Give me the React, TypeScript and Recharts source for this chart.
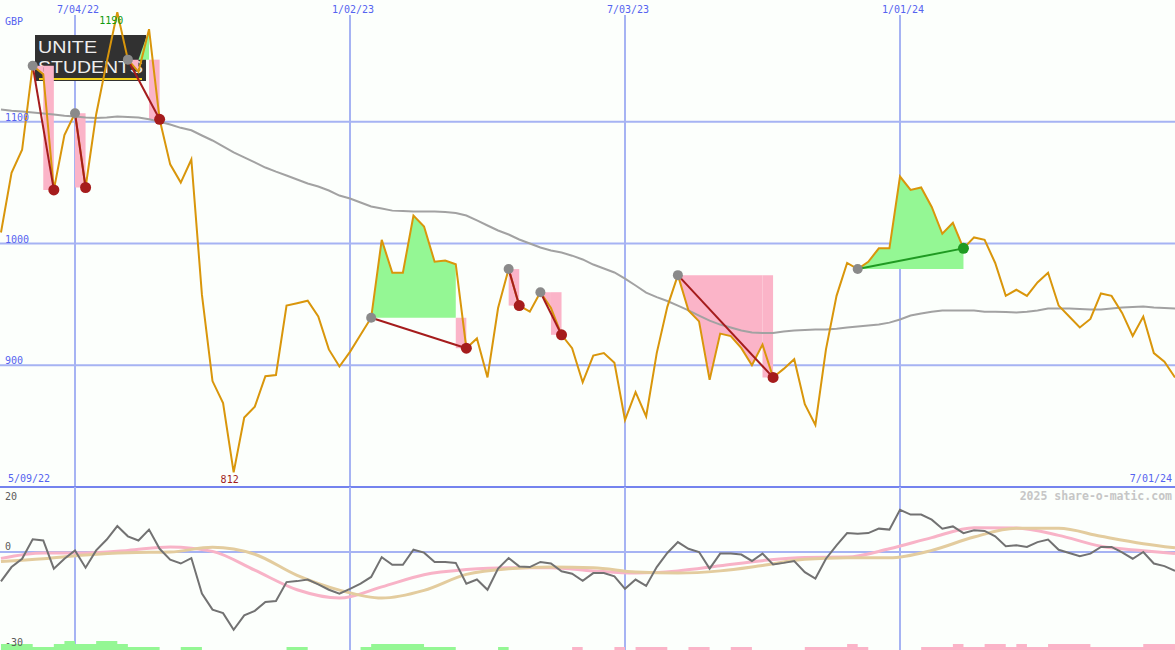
import React from 'react';
import {
  ComposedChart,
  Line,
  Area,
  XAxis,
  YAxis,
  CartesianGrid,
  Customized,
  LabelList,
} from 'recharts';

// weekly closes; week 0 = 5/09/22, first visible point is week 1
const firstWeek = 1;
const startLabel = '5/09/22';
const endLabel = '7/01/24';
const dateTicks = [8, 34, 60, 86];
const dateTickLabels = ['7/04/22', '1/02/23', '7/03/23', '1/01/24'];
const priceTicks = [900, 1000, 1100];
const oscTicks = [20, 0, -30];

const price = [
  1009, 1058, 1077, 1146, 1139, 1044, 1089, 1107, 1046, 1106,
  1149, 1190, 1151, 1141, 1176, 1102, 1065, 1050, 1069, 958,
  887, 869, 812, 857, 866, 891, 892, 949, 951, 953,
  940, 913, 899, 911, 925, 939, 1003, 976, 976, 1023,
  1014, 985, 986, 983, 914, 922, 890, 947, 979, 949,
  944, 960, 947, 925, 914, 886, 908, 910, 902, 855,
  878, 858, 910, 948, 974, 945, 936, 888, 926, 924,
  914, 900, 917, 890, 897, 905, 868, 851, 913, 957,
  984, 979, 985, 996, 996, 1055, 1044, 1046, 1030, 1008,
  1017, 996, 1005, 1003, 984, 957, 962, 957, 968, 976,
  949, 940, 931, 938, 959, 957, 943, 924, 940, 910,
  903, 890,
];

const movingAvg = [
  1110, 1109, 1108.5, 1107.6, 1106.8, 1106, 1105, 1104.4, 1103.5, 1103,
  1103.5, 1104.4, 1104, 1103.5, 1102, 1100, 1097.8, 1095, 1093, 1088.7,
  1084.6, 1079.7, 1074.8, 1070.7, 1066.6, 1062.4, 1059, 1055.9, 1052.6, 1049.3,
  1046.8, 1043.5, 1039.4, 1037, 1033.7, 1030.4, 1028.8, 1027, 1026.7, 1026.3,
  1026.3, 1026.3, 1025.9, 1025, 1023, 1019, 1014.8, 1010.7, 1007.4, 1003.3,
  1000, 996.7, 994.2, 992.6, 990, 986.9, 982.7, 979.5, 976.2, 971.2,
  965.5, 959.7, 956, 952.8, 949, 945, 940.8, 936.7, 933.4, 931,
  928.5, 926.9, 926.5, 926.5, 927.7, 928.5, 929, 929.3, 929.3, 930,
  931, 931.8, 932.6, 933.4, 935, 937.6, 940.8, 942.5, 944, 945,
  945, 945, 945, 944, 944, 943.7, 943.3, 944, 945, 946.6,
  946.6, 946.6, 946.2, 945.8, 945.8, 946.6, 947.4, 947.8, 948.2, 947.4,
  947, 946.6,
];

const oscillator = [
  -9.2, -4.7, -2.1, 4.0, 3.6, -5.2, -2.1, 0.5, -4.9, 0.5,
  3.9, 8.1, 4.9, 3.6, 7.0, 1.0, -2.4, -3.6, -1.9, -13.0,
  -18.0, -19.1, -24.3, -19.8, -18.4, -15.6, -15.3, -9.4, -9.1, -8.6,
  -10.1, -11.8, -13.0, -11.5, -9.9, -7.8, -1.6, -4.0, -4.0, 0.7,
  -0.2, -3.1, -3.1, -3.4, -9.9, -8.6, -11.8, -5.2, -1.9, -4.5,
  -4.7, -3.1, -3.6, -6.0, -6.8, -9.0, -6.6, -6.6, -7.6, -11.5,
  -8.6, -10.6, -4.7, -0.3, 3.1, 1.0, 0, -5.2, -0.5, -0.5,
  -0.8, -2.8, -0.5, -3.9, -3.4, -2.8, -6.3, -8.3, -2.1, 2.1,
  5.9, 5.7, 5.9, 7.3, 7.0, 13.2, 11.7, 11.7, 10.1, 7.3,
  8.0, 5.9, 6.8, 6.6, 4.9, 1.8, 2.1, 1.6, 3.1, 3.9,
  0.7, -0.3, -1.3, -0.5, 1.6, 1.6, -0.1, -2.1, 0, -3.6,
  -4.4, -5.9,
];

// smooth signal lines, read every 4 weeks
const signalWeeks = [
  1, 5, 9, 13, 17, 21, 25, 29, 33, 37, 41, 45, 49, 53, 57, 61, 65, 69, 73, 77,
  81, 85, 89, 93, 97, 101, 105, 109, 112,
];
const signalPink = [
  -2.0, -0.3, -0.3, 0.5, 1.6, 0.2, -5.7, -11.8, -14.4, -10.9, -7.1, -5.5, -4.9, -4.9,
  -5.9, -6.6, -5.9, -4.3, -2.7, -1.7, -1.6, 1.0, 4.5, 7.6, 7.5, 5.2, 1.8, 0.4, -0.5,
];
const signalTan = [
  -3.0, -2.1, -0.9, -0.2, 0, 1.5, -0.7, -7.3, -11.9, -14.4, -12.0, -7.0, -5.2, -4.7,
  -4.9, -6.25, -6.6, -5.9, -4.2, -2.3, -1.8, -1.8, 0.5, 4.7, 7.4, 7.4, 4.9, 2.6, 1.3,
];

// bottom strip: + green blocks, - pink blocks
const flow = [
  2, 2, 2, 1, 1, 2, 3, 2, 2, 3,
  3, 2, 1, 1, 1, 0, 0, 1, 1, 0,
  0, 0, 0, 0, 0, 0, 0, 1, 1, 0,
  0, 0, 0, 0, 1, 2, 2, 2, 2, 2,
  1, 1, 1, 0, 0, 0, 0, 1, 0, 0,
  0, 0, 0, 0, -1, 0, 0, 0, -1, 0,
  -1, -1, -1, 0, 0, -1, -1, 0, 0, -1,
  -1, 0, 0, 0, 0, 0, -1, -1, -1, -1,
  -2, -1, 0, 0, 0, 0, 0, -1, -1, -1,
  -2, -1, -1, -2, -2, -1, -2, -1, -1, -2,
  -2, -2, -2, -1, -1, -1, -1, -1, -2, -2,
  -2, -2,
];

// entry / exit weeks
const trades = [
  { entry: 4, exit: 6 },
  { entry: 8, exit: 9 },
  { entry: 13, exit: 16 },
  { entry: 36, exit: 45 },
  { entry: 49, exit: 50 },
  { entry: 52, exit: 54 },
  { entry: 65, exit: 74 },
  { entry: 82, exit: 92 },
];

const W = 1175;
const TOP_H = 487;
const BOT_H = 163;
const BG = '#fcfffc';
const GRID = '#a6b3f3';
const BLUE = '#5563f0';
const MONO = '"DejaVu Sans Mono", monospace';
const X_DOMAIN = [8 - 75 / (275 / 26), 112];
const OSC_DOMAIN = [-30.625, 20.3125];
const FLOW_UNIT = 0.9375;
const PINK = '#fbb4c8';
const GREEN = '#94f794';

const idx = (w: number) => w - firstWeek;

type Run = { kind: 'g' | 'p' | 'r'; from: number; to: number; e: number; xv: number };
const runs: Run[] = [];
trades.forEach((t) => {
  const e = price[idx(t.entry)];
  const xv = price[idx(t.exit)];
  let cur: Run | null = null;
  for (let j = t.entry; j < t.exit; j++) {
    const kind: Run['kind'] =
      j + 1 === t.exit && xv < e ? 'r' : price[idx(j + 1)] >= e ? 'g' : 'p';
    if (cur && cur.kind === kind) cur.to = j + 1;
    else {
      cur = { kind, from: j, to: j + 1, e, xv };
      runs.push(cur);
    }
  }
});

const maxV = Math.max(...price);
const minV = Math.min(...price);

const topData = price.map((p, i) => {
  const w = i + firstWeek;
  const row: any = { w, price: p, ma: movingAvg[i] };
  if (p === maxV || p === minV) row.ext = p;
  trades.forEach((t, ti) => {
    if (w === t.entry || w === t.exit) row['trade' + ti] = p;
  });
  runs.forEach((r, ri) => {
    if (w >= r.from && w <= r.to) {
      row['fill' + ri] =
        r.kind === 'g' ? [r.e, Math.max(p, r.e)] : r.kind === 'p' ? [Math.min(p, r.e), r.e] : [r.xv, r.e];
    }
  });
  return row;
});

const botData = oscillator.map((v, i) => {
  const w = i + firstWeek;
  const s = signalWeeks.indexOf(w);
  const f = flow[i];
  return {
    w,
    osc: v,
    pink: s >= 0 ? signalPink[s] : null,
    tan: s >= 0 ? signalTan[s] : null,
    flowG: OSC_DOMAIN[0] + Math.max(f, 0) * FLOW_UNIT,
    flowP: OSC_DOMAIN[0] + Math.max(-f, 0) * FLOW_UNIT,
  };
});

const DateTick = ({ x, payload }: any) => {
  const label = dateTickLabels[dateTicks.indexOf(payload.value)] ?? '';
  return (
    <g>
      <rect x={x - 20} y={0} width={46} height={15} fill={BG} />
      <text x={x + 3} y={13} textAnchor="middle" fill={BLUE} fontSize={10} fontFamily={MONO}>
        {label}
      </text>
    </g>
  );
};

const PriceTick = ({ y, payload }: any) => (
  <text x={5} y={y - 1} fill={BLUE} fontSize={10} fontFamily={MONO}>
    {payload.value}
  </text>
);

const OscTick = ({ y, payload }: any) => (
  <text x={5} y={payload.value === oscTicks[0] ? y + 12 : y - 2} fill="#5a5a5a" fontSize={10} fontFamily={MONO}>
    {payload.value}
  </text>
);

const ExtLabel = (props: any) => {
  const { x, y, value } = props;
  if (value == null || x == null) return null;
  const high = value === maxV;
  return (
    <text
      x={x - (high ? 6 : 4)}
      y={y + (high ? 12 : 11)}
      textAnchor="middle"
      fill={high ? '#109a10' : '#a01c1c'}
      fontSize={10}
      fontFamily={MONO}
    >
      {value}
    </text>
  );
};

const Logo = () => (
  <g>
    <rect x={35} y={35} width={111} height={46} fill="#313131" />
    <text x={38} y={53} fill="#eeeeee" fontSize={17} fontFamily="Liberation Sans, sans-serif" textLength={59} lengthAdjust="spacingAndGlyphs">
      UNITE
    </text>
    <text x={38} y={73} fill="#eeeeee" fontSize={17} fontFamily="Liberation Sans, sans-serif" textLength={105} lengthAdjust="spacingAndGlyphs">
      STUDENTS
    </text>
    <rect x={39} y={78} width={103} height={2} fill="#f2d21a" />
  </g>
);

const TopText = () => (
  <g fontFamily={MONO} fontSize={10} fill={BLUE}>
    <text x={5} y={25}>GBP</text>
    <text x={8} y={482}>{startLabel}</text>
    <text x={1172} y={482} textAnchor="end">{endLabel}</text>
  </g>
);

const Watermark = () => (
  <text x={1172} y={13} textAnchor="end" fill="#c6c6c6" fontSize={11.5} fontWeight="bold" fontFamily={MONO}>
    2025 share-o-matic.com
  </text>
);

const tradeDot = (t: { entry: number; exit: number }, color: string) => (props: any) => {
  const { cx, cy, payload, index } = props;
  if (cy == null || cx == null || Number.isNaN(cy)) return <g key={'d' + index} />;
  const isEntry = payload.w === t.entry;
  return (
    <circle key={'d' + index} cx={cx} cy={cy} r={isEntry ? 5 : 5.5} fill={isEntry ? '#8a8a8a' : color} />
  );
};

export default function App() {
  return (
    <div style={{ position: 'relative', width: W, height: 650, background: BG, overflow: 'hidden' }}>
      <style>{'body{margin:0}'}</style>
      <div style={{ position: 'absolute', left: 0, top: 0 }}>
        <ComposedChart width={W} height={TOP_H} data={topData} margin={{ top: 0, right: 0, bottom: 0, left: 0 }}>
          <CartesianGrid
            stroke={GRID}
            strokeWidth={2}
            horizontalValues={priceTicks}
            verticalValues={dateTicks}
          />
          <XAxis
            type="number"
            dataKey="w"
            orientation="top"
            mirror
            domain={X_DOMAIN}
            allowDataOverflow
            ticks={dateTicks}
            interval={0}
            axisLine={false}
            tickLine={false}
            tick={(p: any) => <DateTick {...p} />}
          />
          <YAxis
            type="number"
            mirror
            domain={[800, 1200]}
            allowDataOverflow
            ticks={priceTicks}
            interval={0}
            axisLine={false}
            tickLine={false}
            tick={(p: any) => <PriceTick {...p} />}
          />
          <Customized component={Logo} />
          {runs.map((r, ri) => (
            <Area
              key={'fill' + ri}
              dataKey={'fill' + ri}
              type="linear"
              stroke="none"
              fill={r.kind === 'g' ? GREEN : PINK}
              fillOpacity={1}
              connectNulls={false}
              isAnimationActive={false}
              dot={false}
              activeDot={false}
            />
          ))}
          <Line dataKey="ma" type="linear" stroke="#a2a2a2" strokeWidth={2} dot={false} activeDot={false} isAnimationActive={false} />
          <Line dataKey="price" type="linear" stroke="#d9960b" strokeWidth={2} dot={false} activeDot={false} isAnimationActive={false} />
          {trades.map((t, ti) => {
            const win = price[idx(t.exit)] > price[idx(t.entry)];
            const color = win ? '#1f9a22' : '#a51c1c';
            return (
              <Line
                key={'trade' + ti}
                dataKey={'trade' + ti}
                type="linear"
                stroke={color}
                strokeWidth={2}
                connectNulls
                dot={tradeDot(t, color)}
                activeDot={false}
                isAnimationActive={false}
              />
            );
          })}
          <Line dataKey="ext" stroke="none" dot={false} activeDot={false} isAnimationActive={false}>
            <LabelList dataKey="ext" content={ExtLabel} />
          </Line>
          <Customized component={TopText} />
        </ComposedChart>
      </div>
      <div style={{ position: 'absolute', left: 0, top: 486, width: W, height: 2, background: '#7483ee' }} />
      <div style={{ position: 'absolute', left: 0, top: 487 }}>
        <ComposedChart width={W} height={BOT_H} data={botData} margin={{ top: 0, right: 0, bottom: 0, left: 0 }}>
          <CartesianGrid stroke={GRID} strokeWidth={2} horizontalValues={[0]} verticalValues={dateTicks} />
          <XAxis type="number" dataKey="w" domain={X_DOMAIN} allowDataOverflow hide />
          <YAxis
            type="number"
            mirror
            domain={OSC_DOMAIN}
            allowDataOverflow
            ticks={oscTicks}
            interval={0}
            axisLine={false}
            tickLine={false}
            tick={(p: any) => <OscTick {...p} />}
          />
          <Area dataKey="flowG" type="stepAfter" baseValue={OSC_DOMAIN[0]} stroke="none" fill={GREEN} fillOpacity={1} activeDot={false} isAnimationActive={false} />
          <Area dataKey="flowP" type="stepAfter" baseValue={OSC_DOMAIN[0]} stroke="none" fill={PINK} fillOpacity={1} activeDot={false} isAnimationActive={false} />
          <Line dataKey="pink" type="monotone" stroke="#f8b3c7" strokeWidth={3} dot={false} activeDot={false} connectNulls isAnimationActive={false} />
          <Line dataKey="tan" type="monotone" stroke="#e3cc9e" strokeWidth={3} dot={false} activeDot={false} connectNulls isAnimationActive={false} />
          <Line dataKey="osc" type="linear" stroke="#727272" strokeWidth={2} dot={false} activeDot={false} isAnimationActive={false} />
          <Customized component={Watermark} />
        </ComposedChart>
      </div>
    </div>
  );
}
